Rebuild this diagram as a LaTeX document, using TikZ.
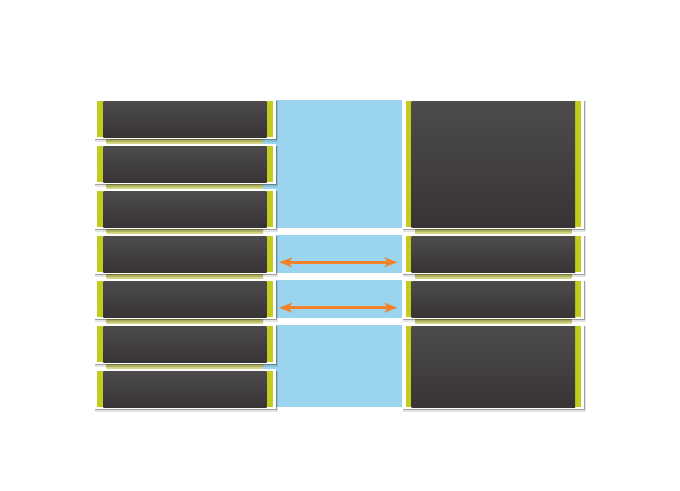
\documentclass[tikz,border=0pt]{standalone}
\usepackage{tikz}
\usetikzlibrary{arrows.meta}
\definecolor{barcol}{HTML}{C2CC1E}
\definecolor{paneltop}{HTML}{4D4B4C}
\definecolor{panelbot}{HTML}{383435}
\definecolor{gapblue}{HTML}{9AD4EE}
\definecolor{ledgetop}{HTML}{A9AC4E}
\definecolor{ledgebot}{HTML}{D8DB8C}
\definecolor{linkcol}{HTML}{F28128}
\def\panel(#1,#2,#3,#4){%
	\fill[black,opacity=0.10] (#1-8.5,#2) rectangle (#3+11,#4+5);
	\fill[black,opacity=0.30] (#1-8.5,#2) rectangle (#3+10,#4+3.4);
	\fill[white] (#1-9.3,#2-2) rectangle (#3+9.3,#4+1.8);
	\fill[barcol] (#1-6,#2) rectangle (#1,#4);
	\fill[barcol] (#3,#2) rectangle (#3+6,#4);
	\shade[top color=paneltop,bottom color=panelbot] (#1,#2) rectangle (#3,#4);}
\def\ledge(#1,#2,#3){\shade[top color=ledgetop,bottom color=ledgebot] (#1,#3) rectangle (#2,#3+6.5);}

\begin{document}
\begin{tikzpicture}[x=1pt,y=-1pt,
		link/.style={draw=linkcol,line width=2.6pt,
			{Stealth[length=13pt,width=9.5pt,inset=3.5pt]}-{Stealth[length=13pt,width=9.5pt,inset=3.5pt]}}]
			%%%%% START %%%%%
			\def\lx{103.3}
			\def\rx{266.7}
			\def\llx{411.7}
			\def\rrx{575}
			\useasboundingbox (0,0) rectangle (680,490);
			
			\fill[gapblue] (263,100) rectangle (403,227.5);
			\fill[gapblue] (263,235) rectangle (403,272.7);
			\fill[gapblue] (263,280) rectangle (403,317.7);
			\fill[gapblue] (263,325) rectangle (403,407);
			
			\foreach \i in {0,...,5}
				{\ledge(106.7,263,137+45*\i)}
			\ledge(415,571.7,227)
			\ledge(415,571.7,272)
			\ledge(415,571.7,317)
			
			\foreach \i in {0,...,6}
				{\panel(\lx,101+45*\i,\rx,137+45*\i)}
			
			\panel(\llx,101,\rrx,227)
			\panel(\llx,236,\rrx,272)
			\panel(\llx,281,\rrx,317)
			\panel(\llx,326,\rrx,407)
			
			\coordinate (linkAl) at (279,262.3);
			\coordinate (linkAr) at (397.5,262.3);
			\coordinate (linkBl) at (279,307.7);
			\coordinate (linkBr) at (397.5,307.7);
			\draw[link] (linkAl) -- (linkAr);
			\draw[link] (linkBl) -- (linkBr);
			%%%%% END %%%%%
\end{tikzpicture}
\end{document}
